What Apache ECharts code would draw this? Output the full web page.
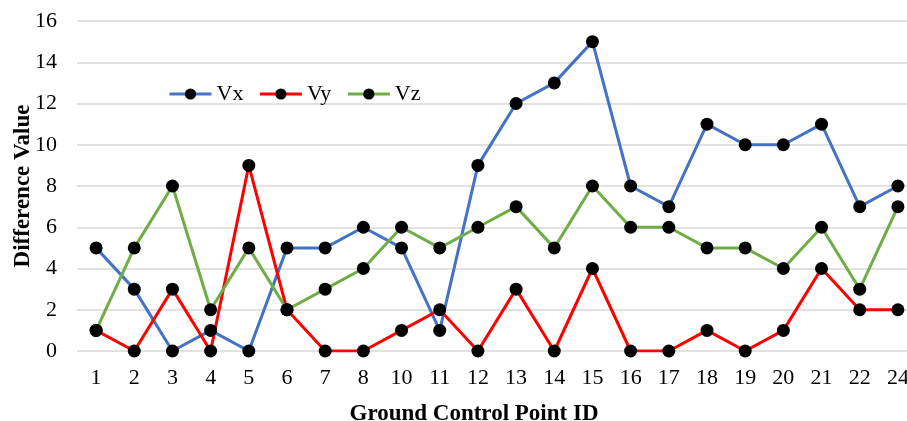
<!DOCTYPE html>
<html><head><meta charset="utf-8">
<script src="https://cdn.jsdelivr.net/npm/echarts@6/dist/echarts.min.js"></script>
<style>html,body{margin:0;padding:0;background:#fff}#c{width:907px;height:421px}</style>
</head><body><div id="c"></div>
<script>
var categories = ['1','2','3','4','5','6','7','8','10','11','12','13','14','15','16','17','18','19','20','21','22','24'];
var vx = [5,3,0,1,0,5,5,6,5,1,9,12,13,15,8,7,11,10,10,11,7,8];
var vy = [1,0,3,0,9,2,0,0,1,2,0,3,0,4,0,0,1,0,1,4,2,2];
var vz = [1,5,8,2,5,2,3,4,6,5,6,7,5,8,6,6,5,5,4,6,3,7];
var font = 'Liberation Serif, Times New Roman, serif';
function mk(name, data, color){
  return {name:name, type:'line', data:data, symbol:'circle', symbolSize:13,
    lineStyle:{color:color,width:3}, itemStyle:{color:'#000'}, color:color};
}
var chart = echarts.init(document.getElementById('c'));
chart.setOption({
  animation:false,
  grid:{left:77, top:21, width:840, height:330, containLabel:false, outerBoundsMode:'none'},
  legend:{left:163, top:78, itemWidth:42, itemHeight:14, itemGap:15,
    textStyle:{fontFamily:font, fontSize:22, color:'#000'},
    data:[{name:'Vx',itemStyle:{color:'#000'},lineStyle:{color:'#4472C4',width:3}},
          {name:'Vy',itemStyle:{color:'#000'},lineStyle:{color:'#FF0000',width:3}},
          {name:'Vz',itemStyle:{color:'#000'},lineStyle:{color:'#70AD47',width:3}}]},
  xAxis:{type:'category', data:categories, boundaryGap:true,
    axisLine:{show:false}, axisTick:{show:false},
    axisLabel:{fontFamily:font, fontSize:22, color:'#000', margin:16},
    name:'Ground Control Point ID', nameLocation:'middle', nameGap:52, nameMoveOverlap:false,
    nameTextStyle:{fontFamily:font, fontSize:23, fontWeight:'bold', color:'#000', padding:[0,46,0,0]}},
  yAxis:{type:'value', min:0, max:16, interval:2,
    axisLine:{show:false}, axisTick:{show:false},
    splitLine:{lineStyle:{color:'#d9d9d9', width:1.5}},
    axisLabel:{fontFamily:font, fontSize:22, color:'#000', margin:20},
    name:'Difference Value', nameLocation:'middle', nameGap:42, nameMoveOverlap:false,
    nameTextStyle:{fontFamily:font, fontSize:23, fontWeight:'bold', color:'#000'}},
  series:[mk('Vx',vx,'#4472C4'), mk('Vy',vy,'#FF0000'), mk('Vz',vz,'#70AD47')]
});
</script></body></html>
